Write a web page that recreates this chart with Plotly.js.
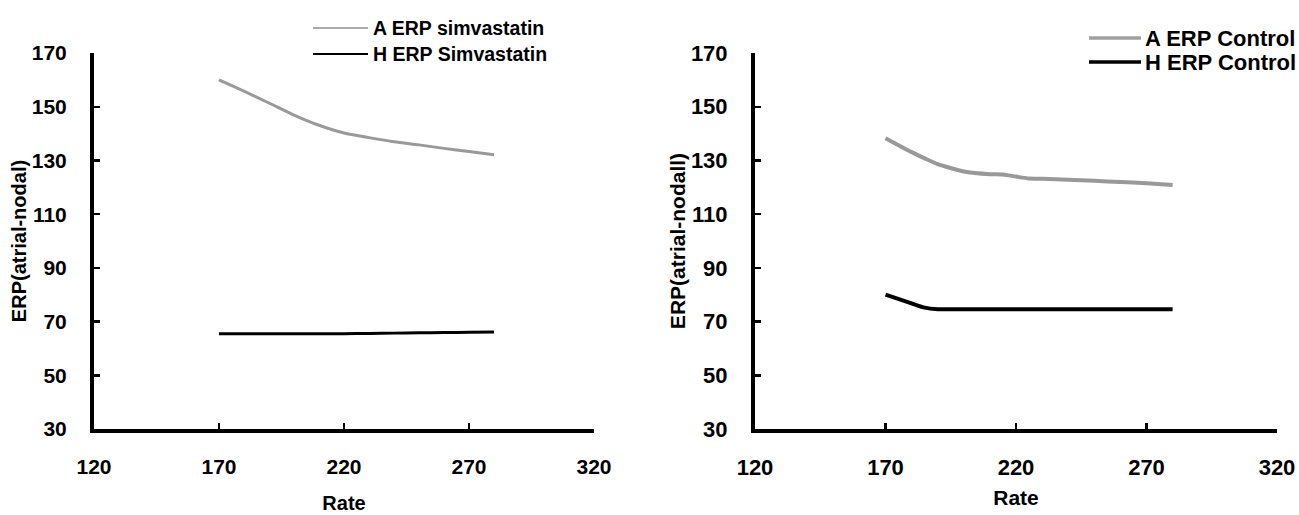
<!DOCTYPE html>
<html>
<head>
<meta charset="utf-8">
<script src="https://cdn.plot.ly/plotly-3.0.1.min.js"></script>
<style>html,body{margin:0;padding:0;background:#fff;}#chart{width:1299px;height:515px;}</style>
</head>
<body>
<div id="chart"></div>
<script>
// ---- data ----
var rateSimva = [170, 180, 190, 200, 210, 220, 230, 240, 250, 260, 270, 280];
var aErpSimvastatin = [160, 155.8, 151.4, 146.9, 143.1, 140.2, 138.5, 137, 135.8, 134.5, 133.3, 132.1];
var hErpSimvastatin = [65.5, 65.5, 65.5, 65.5, 65.5, 65.5, 65.6, 65.7, 65.8, 65.9, 66, 66.1];

var rateControl = [170, 180, 185, 190, 200, 210, 215, 220, 225, 230, 240, 250, 260, 270, 280];
var aErpControl = [138.3, 133.1, 130.8, 128.6, 125.9, 124.9, 124.8, 124.0, 123.3, 123.2, 122.8, 122.4, 122.0, 121.5, 120.9];
var hErpControl = [80, 76.8, 75.2, 74.6, 74.6, 74.6, 74.6, 74.6, 74.6, 74.6, 74.6, 74.6, 74.6, 74.6, 74.6];

var xTicks = [120, 170, 220, 270, 320];
var yTicks = [30, 50, 70, 90, 110, 130, 150, 170];

var seriesNames = ['A ERP simvastatin', 'H ERP Simvastatin', 'A ERP Control', 'H ERP Control'];
var yTitleLeft = 'ERP(atrial-nodal)';
var yTitleRight = 'ERP(atrial-nodall)';
var xTitle = 'Rate';

var GRAY = '#999999';
var FONT = 'Liberation Sans, Arial, sans-serif';

var traces = [
  {x: rateSimva, y: aErpSimvastatin, name: seriesNames[0], mode: 'lines', line: {color: GRAY, width: 3, shape: 'spline', smoothing: 0.8}, xaxis: 'x', yaxis: 'y'},
  {x: rateSimva, y: hErpSimvastatin, name: seriesNames[1], mode: 'lines', line: {color: '#000', width: 3, shape: 'spline', smoothing: 0.8}, xaxis: 'x', yaxis: 'y'},
  {x: rateControl, y: aErpControl, name: seriesNames[2], mode: 'lines', line: {color: GRAY, width: 4, shape: 'spline', smoothing: 0.6}, xaxis: 'x2', yaxis: 'y2'},
  {x: rateControl, y: hErpControl, name: seriesNames[3], mode: 'lines', line: {color: '#000', width: 4, shape: 'spline', smoothing: 0.6}, xaxis: 'x2', yaxis: 'y2'}
];

function xAxis(domain, fs, tfs, standoff) {
  return {
    domain: domain, range: [120, 320], tickvals: xTicks, ticktext: xTicks.map(String),
    showgrid: false, zeroline: false, showline: true, linewidth: 4, linecolor: '#000',
    ticks: 'inside', ticklen: 6, tickwidth: 2.5, tickcolor: '#000',
    tickfont: {family: FONT, size: fs, color: '#000', weight: 'bold'},
    ticklabelstandoff: 16,
    title: {text: '<b>' + xTitle + '</b>', font: {family: FONT, size: tfs, color: '#000'}, standoff: standoff},
    fixedrange: true
  };
}
function yAxis(anchor, fs, tfs, title) {
  return {
    anchor: anchor, domain: [0.167, 0.897], range: [30, 170], tickvals: yTicks, ticktext: yTicks.map(String),
    showgrid: false, zeroline: false, showline: true, linewidth: 4, linecolor: '#000',
    ticks: 'inside', ticklen: 6, tickwidth: 2.5, tickcolor: '#000',
    tickfont: {family: FONT, size: fs, color: '#000', weight: 'bold'},
    ticklabelstandoff: 19,
    title: {text: '<b>' + title + '</b>', font: {family: FONT, size: tfs, color: '#000'}, standoff: 1},
    fixedrange: true
  };
}

var xa = xAxis([94 / 1299, 594 / 1299], 21, 20, 20);
xa.anchor = 'y';
var xa2 = xAxis([755 / 1299, 1277 / 1299], 22, 21, 12);
xa2.anchor = 'y2';

// legends drawn as shapes + text
function legendLine(x0, x1, y, color, w) {
  return {type: 'line', xref: 'paper', yref: 'paper', x0: x0 / 1299, x1: x1 / 1299, y0: 1 - y / 515, y1: 1 - y / 515, line: {color: color, width: w}};
}
function legendText(x, y, txt, fs) {
  return {xref: 'paper', yref: 'paper', x: x / 1299, y: 1 - y / 515, xanchor: 'left', yanchor: 'middle', text: '<b>' + txt + '</b>', showarrow: false, font: {family: FONT, size: fs, color: '#000'}};
}

var layout = {
  width: 1299, height: 515,
  margin: {l: 0, r: 0, t: 0, b: 0},
  paper_bgcolor: '#fff', plot_bgcolor: '#fff',
  showlegend: false,
  xaxis: xa, yaxis: yAxis('x', 21, 20, yTitleLeft),
  xaxis2: xa2, yaxis2: yAxis('x2', 22, 21, yTitleRight),
  shapes: [
    legendLine(313, 368, 28, '#aaaaaa', 2),
    legendLine(313, 368, 54, '#000', 2),
    legendLine(1089, 1141, 38, '#a0a0a0', 3.5),
    legendLine(1089, 1141, 62, '#000', 3.5)
  ],
  annotations: [
    legendText(371, 28, seriesNames[0], 19.5),
    legendText(371, 54, seriesNames[1], 19.5),
    legendText(1143, 38, seriesNames[2], 22),
    legendText(1143, 62, seriesNames[3], 22)
  ]
};

Plotly.newPlot('chart', traces, layout, {displayModeBar: false, staticPlot: true});
</script>
</body>
</html>
